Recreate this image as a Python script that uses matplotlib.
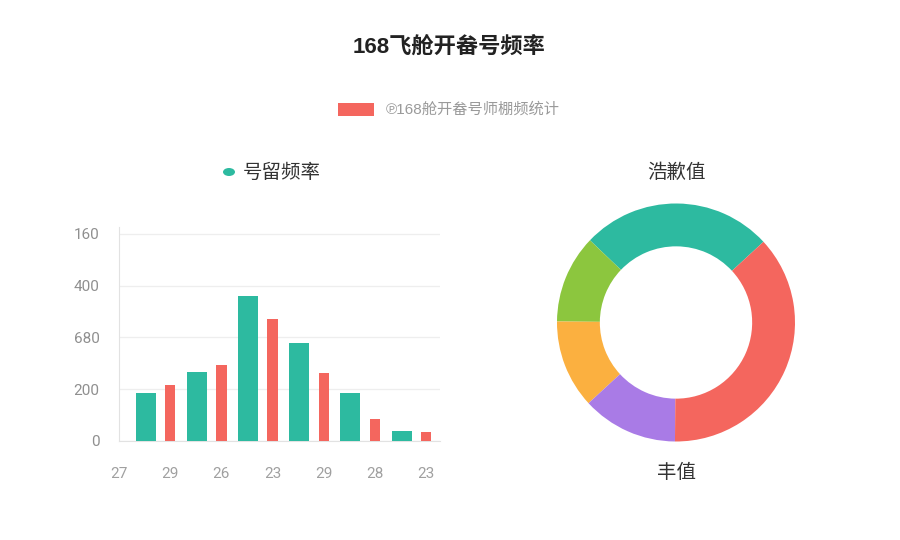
import matplotlib
matplotlib.use("Agg")
import matplotlib.pyplot as plt
from matplotlib.patches import Ellipse, Rectangle

plt.rcParams['font.family'] = ['Noto Sans CJK SC', 'DejaVu Sans']
MIXED = ['Liberation Sans', 'Noto Sans CJK SC', 'DejaVu Sans']
DIGITS = ['Roboto', 'DejaVu Sans']

# ---- data ----
title = "168飞舱开畚号频率"
legend_label = "℗168舱开畚号师棚频统计"
bar_title = "号留频率"
x_tick_labels = ["27", "29", "26", "23", "29", "28", "23"]
y_ticks = [0, 200, 400, 600, 800]
y_tick_labels = ["0", "200", "680", "400", "160"]
teal_values = [184, 265, 561, 377, 184, 39]
red_values = [214, 293, 470, 262, 83, 32]
pie_top_label = "浩歉值"
pie_bottom_label = "丰值"
pie_labels = ["teal", "green", "orange", "purple", "red"]
pie_values = [26, 12, 12, 13, 37]

TEAL = "#2DBAA0"
RED = "#F4665E"
pie_colors = [TEAL, "#8CC63E", "#FBB040", "#A97BE6", RED]

W, H = 900, 540
fig = plt.figure(figsize=(9, 5.4), dpi=100)
fig.patch.set_facecolor("white")

def fx(px):
    return px / W

def fy(py):
    return 1 - py / H

# title
fig.text(fx(449), fy(47), title, ha="center", va="center", fontsize=16,
         fontweight="bold", color="#222222", family=MIXED)

# legend
fig.add_artist(Rectangle((fx(338), fy(116)), 36 / W, 13 / H,
                         transform=fig.transFigure, facecolor=RED, edgecolor="none"))
fig.text(fx(386), fy(109), legend_label, ha="left", va="center", fontsize=11,
         color="#9a9a9a", family=MIXED)

# ---- bar chart ----
ax = fig.add_axes([fx(119), 1 - 440.7 / H, (440 - 119) / W, (440.7 - 226.7) / H])
n = len(teal_values)
teal_x = [i + 0.52 for i in range(n)]
red_x = [i + 1.0 for i in range(n)]
ax.bar(teal_x, teal_values, width=0.39, color=TEAL, zorder=3)
ax.bar(red_x, red_values, width=0.2, color=RED, zorder=3)
ax.set_xlim(0, 6.27)
ax.set_ylim(0, 828)
ax.set_xticks(range(len(x_tick_labels)))
ax.set_xticklabels(x_tick_labels, family=DIGITS)
ax.set_yticks(y_ticks)
ax.set_yticklabels(y_tick_labels, family=DIGITS)
ax.tick_params(axis="x", length=0, pad=19, labelsize=11, labelcolor="#a0a0a0")
ax.tick_params(axis="y", length=0, pad=14, labelsize=11, labelcolor="#8f8f8f")
ax.grid(axis="y", color="#eeeeee", linewidth=0.9, zorder=0)
for s in ["top", "right"]:
    ax.spines[s].set_visible(False)
ax.spines["left"].set_color("#e2e2e2")
ax.spines["bottom"].set_color("#e2e2e2")
ax.set_facecolor("white")

fig.add_artist(Ellipse((fx(229), fy(172)), 12 / W, 8 / H, transform=fig.transFigure,
                       facecolor=TEAL, edgecolor="none"))
fig.text(fx(282), fy(172), bar_title, ha="center", va="center", fontsize=14,
         color="#333333")

# ---- donut ----
cx, cy, r = 676, 322.5, 119
pax = fig.add_axes([fx(cx - r), fy(cy + r), 2 * r / W, 2 * r / H])
pax.pie(pie_values, colors=pie_colors, startangle=42.7, counterclock=True,
        radius=1, wedgeprops=dict(width=0.36, linewidth=0))
pax.set_xlim(-1, 1)
pax.set_ylim(-1, 1)
pax.set_aspect("equal")
pax.axis("off")

fig.text(fx(676), fy(172), pie_top_label, ha="center", va="center", fontsize=14,
         color="#333333")
fig.text(fx(676), fy(472), pie_bottom_label, ha="center", va="center", fontsize=14,
         color="#333333")

fig.savefig("out.png", dpi=100, facecolor="white")
